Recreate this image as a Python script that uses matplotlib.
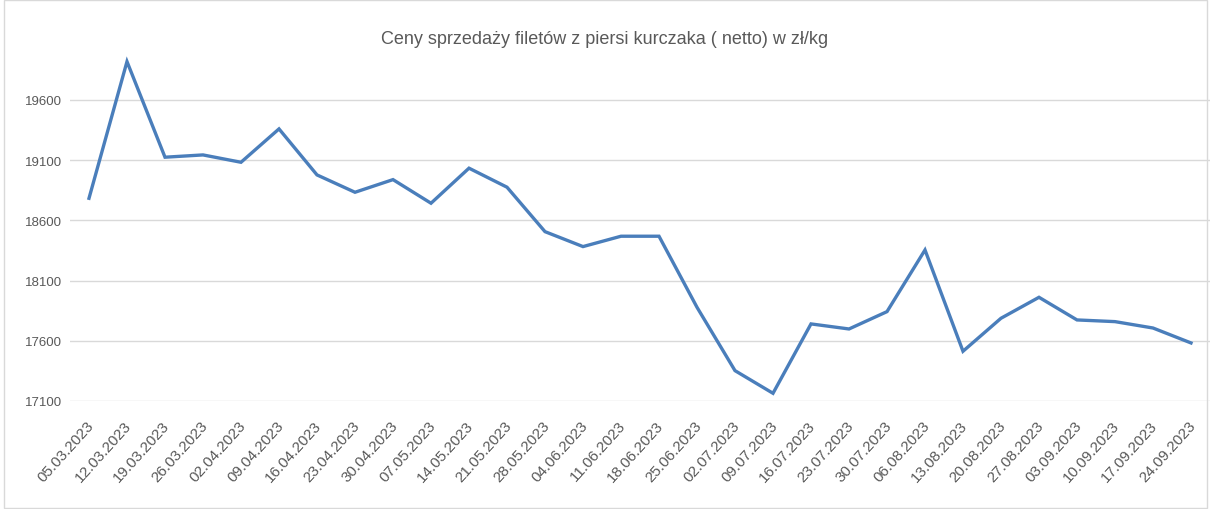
import matplotlib.pyplot as plt
from matplotlib.patches import Rectangle
from matplotlib.transforms import ScaledTranslation

# tygodniowe ceny sprzedazy filetow z piersi kurczaka (netto)
dates = ['05.03.2023', '12.03.2023', '19.03.2023', '26.03.2023', '02.04.2023',
         '09.04.2023', '16.04.2023', '23.04.2023', '30.04.2023', '07.05.2023',
         '14.05.2023', '21.05.2023', '28.05.2023', '04.06.2023', '11.06.2023',
         '18.06.2023', '25.06.2023', '02.07.2023', '09.07.2023', '16.07.2023',
         '23.07.2023', '30.07.2023', '06.08.2023', '13.08.2023', '20.08.2023',
         '27.08.2023', '03.09.2023', '10.09.2023', '17.09.2023', '24.09.2023']
prices = [18783, 19918, 19124, 19143, 19082, 19359, 18977, 18833, 18938, 18742,
          19033, 18875, 18506, 18382, 18468, 18468, 17878, 17352, 17164, 17740,
          17698, 17842, 18354, 17513, 17787, 17961, 17773, 17759, 17706, 17582]
yticks = [17100, 17600, 18100, 18600, 19100, 19600]

plt.rcParams['font.family'] = ['Liberation Sans', 'DejaVu Sans']
grey = '#595959'

fig = plt.figure(figsize=(12.11, 5.10), dpi=100)
ax = fig.add_axes([70/1211, 108/510, 1140/1211, 349.3/510])

x = range(len(dates))
ax.plot(x, prices, color='#4A7EBB', linewidth=2.4, solid_joinstyle='miter')

ax.set_xlim(-0.5, len(dates) - 0.5)
ax.set_ylim(17100, 20000)
ax.set_yticks(yticks)
ax.set_yticklabels([str(v) for v in yticks], color=grey, fontsize=9.5)
ax.set_xticks(list(x))
ax.set_xticklabels(dates, rotation=48, ha='right', va='top',
                   rotation_mode='anchor', color=grey, fontsize=11)
ax.tick_params(axis='y', length=0, pad=6)
ax.tick_params(axis='x', length=0, pad=12)
shift = ScaledTranslation(-3/100, 0, fig.dpi_scale_trans)
for lbl in ax.get_xticklabels():
    lbl.set_transform(lbl.get_transform() + shift)
ax.yaxis.grid(True, color='#D9D9D9', linewidth=1)
ax.set_axisbelow(True)
for s in ax.spines.values():
    s.set_visible(False)

fig.text(605/1211, 1 - 40/510, 'Ceny sprzedaży filetów z piersi kurczaka ( netto) w zł/kg',
         ha='center', va='center', color=grey, fontsize=13)

# ramka wykresu
fig.patches.append(Rectangle((4/1211, 0.002), 1 - 8/1211, 0.996, transform=fig.transFigure,
                             fill=False, edgecolor='#D9D9D9', linewidth=1))

fig.savefig('out.png', dpi=100)
